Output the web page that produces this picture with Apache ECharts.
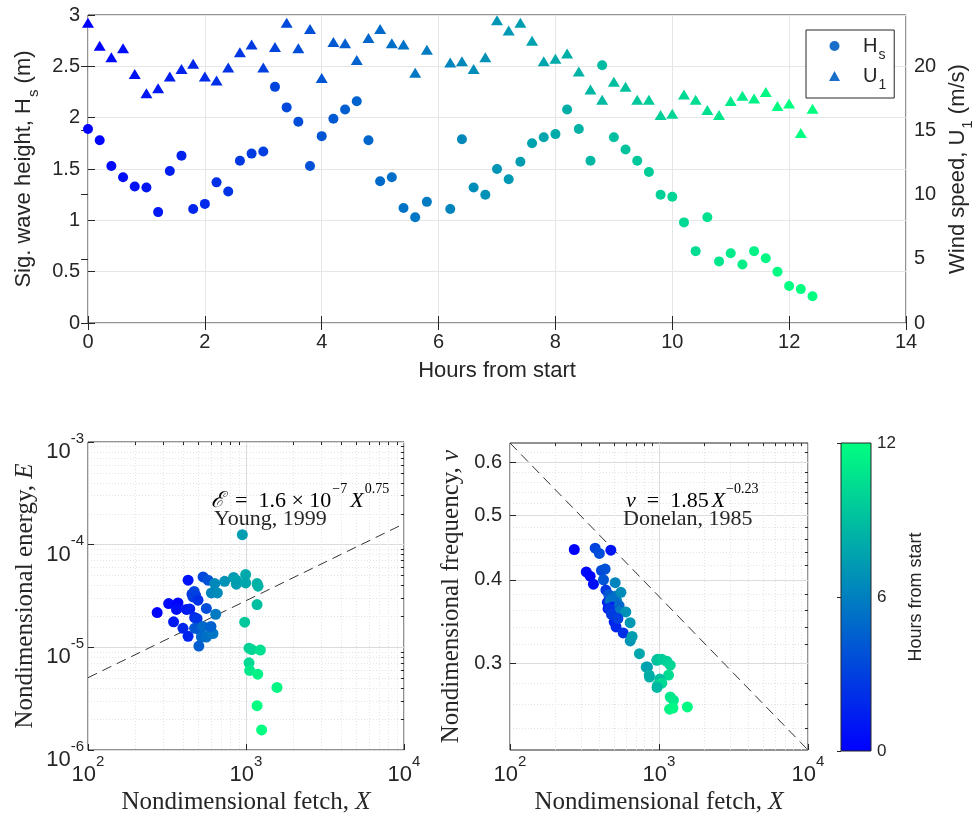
<!DOCTYPE html>
<html><head><meta charset="utf-8">
<script src="https://cdn.jsdelivr.net/npm/echarts@6/dist/echarts.min.js"></script>
<style>html,body{margin:0;padding:0;background:#fff}#c{width:974px;height:814px}</style>
</head><body><div id="c"></div>
<script>
// ---------- data ----------
const hours = [0,0.2,0.4,0.6,0.8,1.0,1.2,1.4,1.6,1.8,2.0,2.2,2.4,2.6,2.8,3.0,3.2,3.4,3.6,3.8,4.0,4.2,4.4,4.6,4.8,5.0,5.2,5.4,5.6,5.8,
  6.2,6.4,6.6,6.8,7.0,7.2,7.4,7.6,7.8,8.0,8.2,8.4,8.6,8.8,9.0,9.2,9.4,9.6,9.8,10.0,10.2,10.4,10.6,10.8,11.0,11.2,11.4,11.6,11.8,12.0,12.2,12.4];
const waveHeight = [1.89,1.78,1.53,1.42,1.33,1.32,1.08,1.48,1.63,1.11,1.16,1.37,1.28,1.58,1.65,1.67,2.30,2.10,1.96,1.53,1.82,1.99,2.08,2.16,1.78,1.38,1.42,1.12,1.03,1.18,
  1.11,1.79,1.32,1.25,1.50,1.40,1.57,1.75,1.81,1.84,2.08,1.89,1.58,2.51,1.81,1.69,1.58,1.47,1.25,1.23,0.98,0.70,1.03,0.60,0.68,0.57,0.70,0.63,0.50,0.36,0.33,0.26];
const windSpeed = [23.4,21.6,20.7,21.4,19.4,17.9,18.3,19.2,19.8,20.2,19.2,18.9,19.9,21.1,21.7,19.9,21.5,23.4,21.4,22.9,19.1,21.9,21.8,20.5,22.2,22.9,21.8,21.7,19.5,21.3,
  20.3,20.4,19.8,20.7,23.6,22.8,23.4,22.0,20.4,20.6,21.0,19.6,18.2,17.4,18.8,18.4,17.4,17.4,16.2,16.3,17.8,17.4,16.6,16.2,17.3,17.7,17.5,18.0,16.9,17.1,14.8,16.7];

const fetchE  = [274,324,348,371,363,399,430,420,441,455,470,462,480,497,473,490,535,575,430,473,503,509,522,561,595,618,561,643,634,604,659,533,600,
  733,835,869,869,995,995,948,1175,1192,1175,981,1045,1087,1233,1045,1055,1186,1571,1175,1256];
const energyE = [2.18e-5,2.67e-5,1.77e-5,2.71e-5,2.34e-5,1.53e-5,4.51e-5,2.34e-5,2.36e-5,3.30e-5,3.50e-5,3.10e-5,3.20e-5,2.88e-5,1.95e-5,1.90e-5,4.85e-5,4.51e-5,1.28e-5,1.53e-5,1.03e-5,1.47e-5,1.26e-5,1.26e-5,1.36e-5,1.36e-5,2.39e-5,2.10e-5,4.18e-5,3.39e-5,3.39e-5,1.60e-5,1.60e-5,
  4.40e-5,4.79e-5,4.51e-5,4.12e-5,5.12e-5,4.24e-5,1.25e-4,4.18e-5,3.94e-5,2.61e-5,1.76e-5,9.8e-6,9.5e-6,9.4e-6,7.06e-6,5.96e-6,5.48e-6,4.07e-6,2.7e-6,1.57e-6];
const hoursE  = [0.0,0.4,1.2,0.2,0.6,1.8,0.8,1.0,1.4,2.6,3.2,2.8,3.0,2.2,2.0,2.4,3.4,3.8,1.6,4.0,4.4,4.2,4.8,5.2,5.4,5.6,3.6,5.8,6.4,6.2,6.6,5.0,4.6,
  6.8,7.2,7.6,7.4,8.0,7.8,7.4,8.2,8.4,9.0,9.4,9.8,10.0,10.6,10.2,11.0,11.4,11.6,12.0,12.4];

const fetchNu = [270,325,345,363,373,398,475,411,435,424,440,460,480,450,470,500,520,490,455,510,540,508,555,535,599,640,500,515,575,641,660,739,820,863,966,977,1045,1130,1190,837,859,1159,1012,977,1045,970,1190,1250,1178,1241,1550,465,480,530];
const freqNu  = [0.444,0.411,0.405,0.394,0.446,0.438,0.443,0.413,0.415,0.400,0.386,0.380,0.375,0.370,0.372,0.368,0.372,0.364,0.362,0.378,0.366,0.396,0.383,0.358,0.358,0.345,0.346,0.340,0.333,0.324,0.329,0.310,0.296,0.286,0.303,0.304,0.304,0.302,0.298,0.296,0.288,0.288,0.284,0.278,0.280,0.276,0.267,0.264,0.256,0.257,0.258,0.362,0.355,0.350];
const hoursNu = [0.0,0.4,0.2,0.6,3.2,3.6,1.0,3.4,3.8,4.0,2.6,4.2,5.0,2.0,5.4,4.6,6.4,1.4,1.2,5.2,4.8,6.2,6.6,5.6,6.8,7.2,1.6,1.8,2.2,7.0,7.4,7.8,8.0,8.4,8.8,9.2,9.6,9.8,10.0,7.6,8.2,10.4,9.0,9.4,10.2,8.6,10.8,11.0,11.4,11.6,11.8,2.4,2.8,3.0];

const youngX = [100, 10000];      const youngE = [5.06e-6, 1.6e-4];
const donelanX = [100, 10000];    const donelanNu = [0.641, 0.2224];

const hourTicks = [0,2,4,6,8,10,12,14];
const hsTicks = [0,0.5,1,1.5,2,2.5,3];
const windTicks = [0,5,10,15,20];
const fetchTicks = [100,1000,10000];
const fetchMinor = [200,300,400,500,600,700,800,900,2000,3000,4000,5000,6000,7000,8000,9000];
const energyTicks = [1e-6,1e-5,1e-4,1e-3];
const energyMinor = [2e-6,3e-6,4e-6,5e-6,6e-6,7e-6,8e-6,9e-6,2e-5,3e-5,4e-5,5e-5,6e-5,7e-5,8e-5,9e-5,2e-4,3e-4,4e-4,5e-4,6e-4,7e-4,8e-4,9e-4];
const freqTicks = [0.3,0.4,0.5,0.6];
const freqMinor = [0.24,0.26,0.28,0.32,0.34,0.36,0.38,0.42,0.44,0.46,0.48,0.52,0.54,0.56,0.58,0.62];
const colorTicks = [0,6,12];

// ---------- styles ----------
const SANS = '"Liberation Sans", Arial, Helvetica, sans-serif';
const SERIF = '"Liberation Serif", "Times New Roman", serif';
const TXT = '#262626';
const BOX = '#262626';

function powLabel(v){
  const n = Math.round(Math.log10(v));
  return '{b|10}{s|' + n + '}';
}
const powRich = {
  b:{fontSize:22, lineHeight:22, padding:[10,0,0,0], verticalAlign:'top', fontFamily:SANS, color:TXT},
  s:{fontSize:15, lineHeight:15, verticalAlign:'top', fontFamily:SANS, color:TXT}
};
const subRich = (fs, lead) => ({
  h:{fontSize:fs, lineHeight:fs, verticalAlign:'top', fontFamily:SANS, color:TXT, padding:[0,0,0,lead||0]},
  m:{fontSize:fs, lineHeight:fs, verticalAlign:'top', fontFamily:SANS, color:TXT},
  sub:{fontSize:Math.round(fs*0.68), lineHeight:Math.round(fs*0.68), padding:[Math.round(fs*0.6),0,0,1], verticalAlign:'top', fontFamily:SANS, color:TXT}
});
const serifRich = {
  n:{fontSize:25, fontFamily:SERIF, color:TXT},
  i:{fontSize:25, fontFamily:SERIF, fontStyle:'italic', color:TXT}
};

function logMajor(grid, pos, min, max, labels, name, gap, extra){
  return Object.assign({
    type:'log', logBase:10, gridIndex:grid, position:pos, min:min, max:max,
    axisLine:{show:false},
    axisTick:{show:true, inside:true, length:6, customValues:labels, lineStyle:{color:BOX}},
    axisLabel:{customValues:labels, formatter:powLabel, rich:powRich, margin:4},
    splitLine:{show:true, lineStyle:{color:'#dcdcdc', width:1}},
    minorTick:{show:false}, minorSplitLine:{show:false},
    name:name, nameLocation:'middle', nameGap:gap, nameTextStyle:{rich:serifRich}
  }, extra||{});
}
function minorAxis(grid, pos, type, min, max, vals){
  return {
    type:type, logBase:10, gridIndex:grid, position:pos, min:min, max:max,
    axisLine:{show:false},
    axisTick:{show:true, inside:true, length:3, customValues:vals, lineStyle:{color:BOX}},
    axisLabel:{show:false, customValues:vals},
    splitLine:{show:true, lineStyle:{color:'#e4e4e4', width:1, type:[1,2]}}
  };
}

const chart = echarts.init(document.getElementById('c'), null, {renderer:'canvas'});

const mathRich = {
  c:{fontSize:22, lineHeight:22, padding:[8,0,0,0], verticalAlign:'top', fontFamily:'"DejaVu Serif", serif', fontStyle:'italic', color:TXT},
  m:{fontSize:22, lineHeight:22, padding:[8,0,0,0], verticalAlign:'top', fontFamily:SERIF, color:TXT},
  i:{fontSize:22, lineHeight:22, padding:[8,0,0,3], verticalAlign:'top', fontFamily:SERIF, fontStyle:'italic', color:TXT},
  s:{fontSize:14, lineHeight:14, verticalAlign:'top', fontFamily:SERIF, color:TXT, padding:[0,0,0,1]}
};

const option = {
  backgroundColor:'#ffffff',
  animation:false,
  textStyle:{fontFamily:SANS, color:TXT},
  grid:[
    {left:88, top:15, width:818, height:308, show:true, borderColor:BOX, borderWidth:1, backgroundColor:'transparent', outerBoundsMode:'none', containLabel:false},
    {left:88, top:442, width:316, height:308, show:true, borderColor:BOX, borderWidth:1, backgroundColor:'transparent', outerBoundsMode:'none', containLabel:false},
    {left:510, top:443, width:298, height:307, show:true, borderColor:BOX, borderWidth:1, backgroundColor:'transparent', outerBoundsMode:'none', containLabel:false},
    {left:841, top:443, width:30, height:308, show:true, borderColor:BOX, borderWidth:1, outerBoundsMode:'none', containLabel:false,
      backgroundColor:{type:'linear', x:0, y:0, x2:0, y2:1, colorStops:[{offset:0, color:'#00ff80'},{offset:1, color:'#0000ff'}]}}
  ],
  xAxis:[
    {type:'value', gridIndex:0, position:'bottom', min:0, max:14, interval:2,
      axisLine:{show:false}, axisTick:{inside:true, length:7, lineStyle:{color:BOX}},
      axisLabel:{fontSize:20, color:TXT, margin:9, fontFamily:SANS, customValues:hourTicks},
      splitLine:{show:true, lineStyle:{color:'#e6e6e6'}},
      name:'Hours from start', nameLocation:'middle', nameGap:37, nameTextStyle:{fontSize:22, color:TXT, fontFamily:SANS}},
    {type:'value', gridIndex:0, position:'top', min:0, max:14, interval:2,
      axisLine:{show:false}, axisTick:{inside:true, length:7, lineStyle:{color:BOX}},
      axisLabel:{show:false}, splitLine:{show:false}},
    logMajor(1, 'bottom', 100, 10000, fetchTicks, '{n|Nondimensional fetch, }{i|X}', 40),
    minorAxis(1, 'top', 'log', 100, 10000, fetchMinor),
    logMajor(2, 'bottom', 100, 10000, fetchTicks, '{n|Nondimensional fetch, }{i|X}', 40),
    minorAxis(2, 'top', 'log', 100, 10000, fetchMinor),
    {type:'value', gridIndex:3, min:0, max:1, show:false}
  ],
  yAxis:[
    {type:'value', gridIndex:0, position:'left', min:0, max:3, interval:0.5,
      axisLine:{show:false}, axisTick:{inside:true, length:7, lineStyle:{color:BOX}},
      axisLabel:{fontSize:20, color:TXT, margin:8, fontFamily:SANS, customValues:hsTicks},
      splitLine:{show:true, lineStyle:{color:'#e6e6e6'}},
      name:'{m|Sig. wave height, H}{sub|s}{m| (m)}', nameLocation:'middle', nameGap:49,
      nameTextStyle:{rich:subRich(22)}},
    {type:'value', gridIndex:0, position:'right', min:0, max:24,
      axisLine:{show:false}, axisTick:{inside:true, length:7, customValues:windTicks, lineStyle:{color:BOX}},
      axisLabel:{fontSize:20, color:TXT, margin:8, fontFamily:SANS, customValues:windTicks},
      splitLine:{show:false},
      name:'{m|Wind speed, U}{sub|1}{m| (m/s)}', nameLocation:'middle', nameGap:40,
      nameTextStyle:{rich:subRich(22)}},
    logMajor(1, 'left', 1e-6, 1e-3, energyTicks, '{n|Nondimensional energy, }{i|E}', 50),
    minorAxis(1, 'right', 'log', 1e-6, 1e-3, energyMinor),
    {type:'log', logBase:10, gridIndex:2, position:'left', min:donelanNu[1], max:donelanNu[0],
      axisLine:{show:false},
      axisTick:{show:true, inside:true, length:6, customValues:freqTicks, lineStyle:{color:BOX}},
      axisLabel:{customValues:freqTicks, fontSize:20, color:TXT, fontFamily:SANS, margin:8, formatter:(v)=>String(Math.round(v*10)/10)},
      splitLine:{show:true, lineStyle:{color:'#dcdcdc'}},
      name:'{n|Nondimensional frequency, }{i|ν}', nameLocation:'middle', nameGap:46, nameTextStyle:{rich:serifRich}},
    minorAxis(2, 'right', 'log', donelanNu[1], donelanNu[0], freqMinor),
    {type:'value', gridIndex:3, position:'right', min:0, max:12, interval:6,
      axisLine:{show:false}, axisTick:{show:true, inside:true, length:4, lineStyle:{color:BOX}},
      axisLabel:{fontSize:17, color:TXT, margin:6, fontFamily:SANS, customValues:colorTicks},
      splitLine:{show:false},
      name:'Hours from start', nameLocation:'middle', nameGap:36, nameTextStyle:{fontSize:18, color:TXT, fontFamily:SANS}}
  ],
  legend:{
    show:true, orient:'vertical', left:806, top:30,
    data:[{name:'Hs', icon:'circle'},{name:'U1', icon:'triangle'}],
    itemWidth:11, itemHeight:10, itemGap:4, symbolKeepAspect:true,
    padding:[6,8,6,23],
    borderColor:BOX, borderWidth:1, backgroundColor:'#fff',
    formatter:(n)=> n==='Hs' ? '{h|H}{sub|s}' : '{h|U}{sub|1}',
    textStyle:{rich:subRich(20, 18)}
  },
  visualMap:{
    type:'continuous', show:false, min:0, max:12, dimension:2, seriesIndex:[0,1,3,5],
    inRange:{color:['#0000ff','#00ff80']},
    outOfRange:{color:'#00ff80'}
  },
  graphic:[
    {type:'text', left:211, top:482, z:100, style:{
      text:'{c|ℰ}{m|\u2002=\u20021.6 × 10}{s|−7}{i|X}{s|0.75}', rich:mathRich}},
    {type:'text', left:214, top:508, z:100, style:{text:'Young, 1999', fontSize:22, fontFamily:SERIF, fill:TXT}},
    {type:'text', left:623, top:482, z:100, style:{
      text:'{i|ν}{m|\u2002=\u20021.85}{i|X}{s|−0.23}', rich:mathRich}},
    {type:'text', left:623, top:508, z:100, style:{text:'Donelan, 1985', fontSize:22, fontFamily:SERIF, fill:TXT}}
  ],
  series:[
    {name:'Hs', type:'scatter', xAxisIndex:0, yAxisIndex:0, symbol:'circle', symbolSize:10,
      itemStyle:{color:'#1a6fc9', opacity:1},
      data:hours.map((t,i)=>[t, waveHeight[i], t]), z:3},
    {name:'U1', type:'scatter', xAxisIndex:0, yAxisIndex:1, symbol:'triangle', symbolSize:[12,10],
      itemStyle:{color:'#1a6fc9', opacity:1},
      data:hours.map((t,i)=>[t, windSpeed[i], t]), z:3},
    {name:'Young', type:'line', xAxisIndex:2, yAxisIndex:2, symbol:'none', silent:true,
      lineStyle:{color:'#333333', width:1, type:[10,6]},
      data:youngX.map((x,i)=>[x, youngE[i]]), z:2},
    {name:'E', type:'scatter', xAxisIndex:2, yAxisIndex:2, symbolSize:11,
      itemStyle:{opacity:1},
      data:fetchE.map((x,i)=>[x, energyE[i], hoursE[i]]), z:3},
    {name:'Donelan', type:'line', xAxisIndex:4, yAxisIndex:4, symbol:'none', silent:true,
      lineStyle:{color:'#333333', width:1, type:[10,6]},
      data:donelanX.map((x,i)=>[x, donelanNu[i]]), z:2},
    {name:'nu', type:'scatter', xAxisIndex:4, yAxisIndex:4, symbolSize:11,
      itemStyle:{opacity:1},
      data:fetchNu.map((x,i)=>[x, freqNu[i], hoursNu[i]]), z:3}
  ]
};
chart.setOption(option);
</script>
</body></html>
